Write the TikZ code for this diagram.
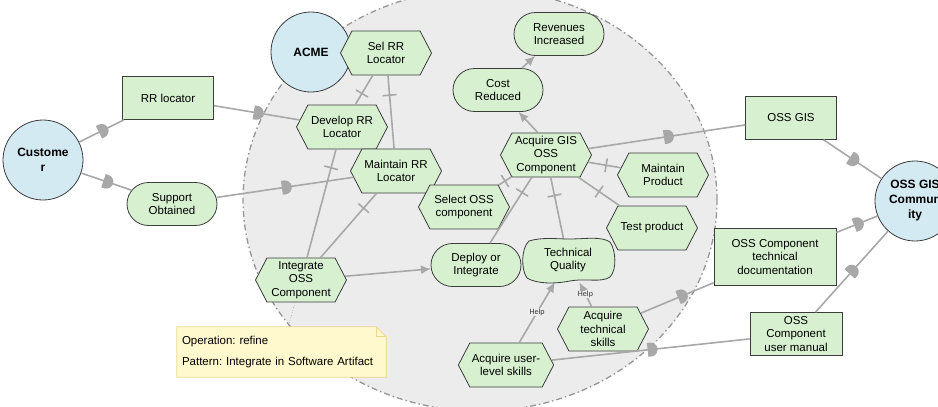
\documentclass[tikz,border=0pt]{standalone}
\usepackage{fontspec}
\setmainfont{Liberation Sans}
\newfontfamily\helpfam{Carlito}
\frenchspacing
\usetikzlibrary{shapes.symbols,shapes.misc,arrows.meta,decorations.markings,calc}

\definecolor{elemgreen}{RGB}{215,241,208}
\definecolor{actorblue}{RGB}{212,234,243}
\definecolor{linkgrey}{RGB}{168,168,168}
\definecolor{bdgrey}{RGB}{150,150,150}
\definecolor{bdfill}{RGB}{236,236,236}
\definecolor{elemline}{RGB}{60,60,60}
\definecolor{notefill}{RGB}{255,249,205}
\definecolor{noteline}{RGB}{238,214,140}

\newcommand\elemfont{\fontsize{11.5}{13.5}\selectfont}
\newcommand\actorfont{\fontsize{12}{15}\selectfont\bfseries}

\tikzset{
  actor/.style={circle, draw=elemline, fill=actorblue, line width=0.8pt,
    minimum size=80pt, inner sep=0pt, align=center, font=\actorfont},
  task/.style={signal, signal to=east and west, signal pointer angle=125,
    draw=elemline, fill=elemgreen, line width=0.8pt, minimum width=91pt,
    minimum height=44pt, inner xsep=2pt, inner ysep=0pt, align=center, font=\elemfont},
  goal/.style={rounded rectangle, draw=elemline, fill=elemgreen, line width=0.8pt,
    minimum width=90pt, minimum height=43pt, inner sep=0pt, align=center, font=\elemfont},
  resource/.style={rectangle, draw=elemline, fill=elemgreen, line width=0.6pt,
    minimum width=91pt, minimum height=43pt, inner sep=0pt, align=center, font=\elemfont},
  softgoal/.style={rectangle, minimum width=92pt, minimum height=44pt,
    inner sep=0pt, align=center, font=\elemfont},
  link/.style={draw=linkgrey, line width=1.6pt},
  dep/.style={link, postaction={decorate, decoration={markings,
    mark=at position #1 with {\fill[linkgrey] (-3pt,-7pt) -- (0pt,-7pt)
      arc[start angle=-90, end angle=90, radius=7pt] -- (-3pt,7pt) -- cycle;}}}},
  dep/.default=0.5,
  decomp/.style={link, postaction={decorate, decoration={markings,
    mark=at position #1 with {\draw[linkgrey, line width=1.6pt] (0pt,-7pt) -- (0pt,7pt);}}}},
  decomp/.default=0.5,
  contrib/.style={link, -{Latex[length=10pt,width=9pt]}},
  helplbl/.style={font=\helpfam\fontsize{8}{9}\selectfont, text=black!80,
    fill=bdfill, inner sep=0.5pt},
}

\begin{document}
\begin{tikzpicture}[x=1pt,y=-1pt]
\clip (0,0) rectangle (938,407);

% boundary of ACME
\filldraw[fill=bdfill, draw=bdgrey, line width=1.3pt,
  dash pattern=on 6pt off 3pt on 1.5pt off 3pt]
  (480,200) ellipse [x radius=237pt, y radius=211pt];

% actors
\node[actor] (cust) at (43,160) {Custome\\r};
\node[actor] (acme) at (311,52) {ACME};
\node[actor] (comm) at (915,201) {OSS GIS\\Commun\\ity};

% resources
\node[resource] (rrloc) at (168,98) {RR locator};
\node[resource] (ossgis) at (791,118) {OSS GIS};
\node[resource, minimum width=122pt, minimum height=57pt] (techdoc) at (775,257)
  {OSS Component\\technical\\documentation};
\node[resource, minimum width=92pt] (manual) at (796,334) {OSS\\Component\\user manual};

% goals
\node[goal] (suppobt) at (172,204) {Support\\Obtained};
\node[goal] (cost) at (498,90) {Cost\\Reduced};
\node[goal] (revenue) at (559,34) {Revenues\\Increased};
\node[goal] (deploy) at (476,265) {Deploy or\\Integrate};

% tasks
\node[task] (selrr) at (386,53) {Sel RR\\Locator};
\node[task] (devrr) at (342,127) {Develop RR\\Locator};
\node[task] (mainrr) at (396,171) {Maintain RR\\Locator};
\node[task] (selos) at (464,207) {Select OSS\\component};
\node[task] (acqgis) at (546,155) {Acquire GIS\\OSS\\Component};
\node[task] (mainprod) at (663,175) {Maintain\\Product};
\node[task] (testprod) at (652,228) {Test product};
\node[task] (integ) at (301,280) {Integrate\\OSS\\Component};
\node[task] (techsk) at (603,329) {Acquire\\technical\\skills};
\node[task] (usersk) at (506,365) {Acquire user-\\level skills};

% softgoal
\node[softgoal] (techq) at (568,260) {Technical\\Quality};
\filldraw[fill=elemgreen, draw=elemline, line width=0.8pt, shift={(techq)}]
  (-39,-19) .. controls (-26,-23) and (-12,-21) .. (2,-21)
  .. controls (17,-21) and (33,-24) .. (42,-18)
  .. controls (48,-10) and (49,10) .. (42,17)
  .. controls (33,23) and (18,18) .. (2,21)
  .. controls (-14,24) and (-31,24) .. (-41,18)
  .. controls (-47,10) and (-47,-12) .. (-39,-19) -- cycle;
\node[font=\elemfont, align=center] at (techq) {Technical\\Quality};

% note
\node[rectangle, fill=notefill, minimum height=50pt, text width=199pt,
  inner xsep=5pt, inner ysep=0pt, align=left, font=\elemfont] (note) at (281.5,352)
  {Operation: refine\\[7pt]Pattern: Integrate in Software Artifact};
\fill[bdfill] ($(note.north east)+(-10,-1)$) -- ($(note.north east)+(1,-1)$)
  -- ($(note.north east)+(1,10)$) -- cycle;
\draw[noteline, line width=0.8pt] (note.north west) -- ($(note.north east)+(-10,0)$)
  -- ($(note.north east)+(0,10)$) -- (note.south east) -- (note.south west) -- cycle;
\draw[noteline, line width=0.8pt] ($(note.north east)+(-10,0)$) -- ($(note.north east)+(-10,10)$)
  -- ($(note.north east)+(0,10)$);
\draw[bdgrey, dotted, line width=0.6pt] (integ) -- (note);

% dependencies
\draw[dep] (cust) -- (rrloc);
\draw[dep] (rrloc) -- (devrr);
\draw[dep] (cust) -- (suppobt);
\draw[dep] (suppobt) -- (mainrr);
\draw[dep] (acqgis) -- (ossgis);
\draw[dep] (ossgis) -- (comm);
\draw[dep=0.55] (techsk) -- (techdoc);
\draw[dep] (techdoc) -- (comm);
\draw[dep] (usersk) -- (manual);
\draw[dep] (manual) -- (comm);

% decompositions
\draw[decomp=0.62] (selrr) -- (devrr);
\draw[decomp=0.27] (selrr) -- (mainrr);
\draw[decomp=0.17] (devrr) -- (integ);
\draw[decomp=0.23] (mainrr) -- (integ);
\draw[decomp] (acqgis) -- (selos);
\draw[decomp=0.23] (acqgis) -- (deploy);
\draw[decomp=0.3] (acqgis) -- (techq);
\draw[decomp=0.55] (acqgis) -- (mainprod);
\draw[decomp] (acqgis) -- (testprod);

% contributions
\draw[contrib] (acqgis.110) -- (cost);
\draw[contrib] (cost) -- (revenue);
\draw[contrib] (integ) -- (deploy);
\draw[contrib] (usersk) -- node[helplbl] {Help} (techq);
\draw[contrib] (techsk) -- node[helplbl] {Help} (techq);
\end{tikzpicture}
\end{document}
